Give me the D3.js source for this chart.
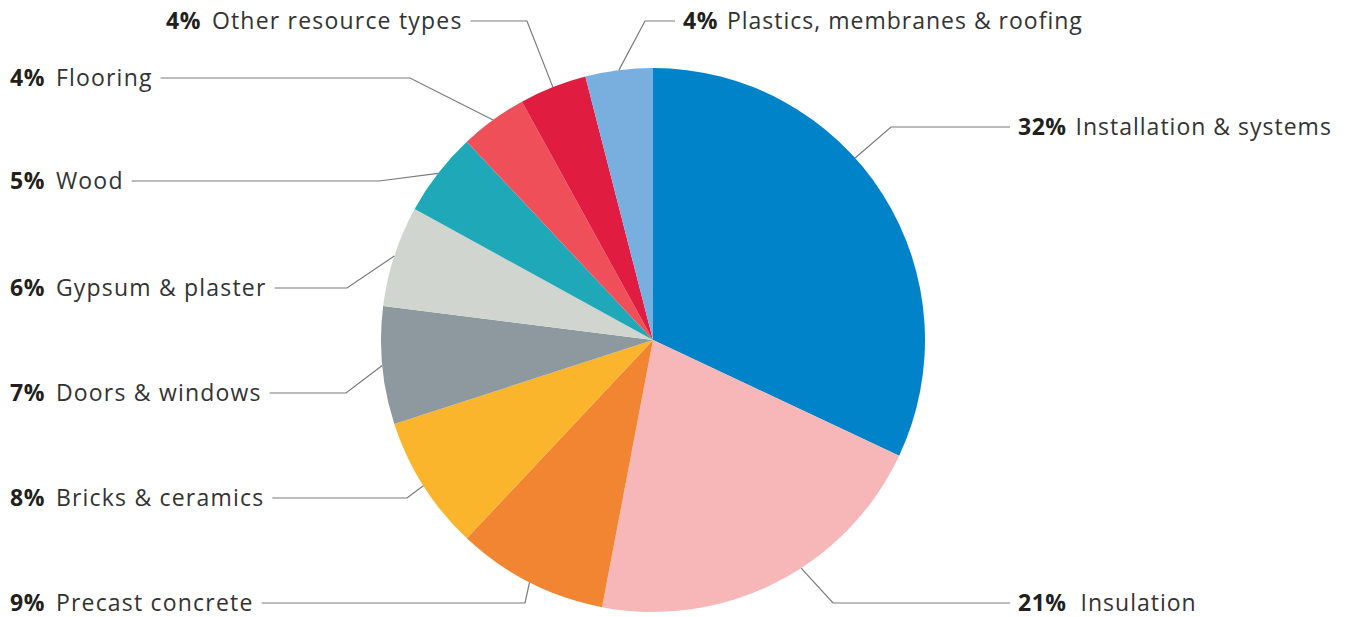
<!DOCTYPE html>
<html>
<head>
<meta charset="utf-8">
<script src="https://cdn.jsdelivr.net/npm/d3@7"></script>
<style>
  html, body { margin: 0; padding: 0; background: #ffffff; }
  svg { display: block; }
</style>
</head>
<body>
<svg id="chart" width="1347" height="617"></svg>
<script>
// ---- data ----
const categories = [
  "Installation & systems",
  "Insulation",
  "Precast concrete",
  "Bricks & ceramics",
  "Doors & windows",
  "Gypsum & plaster",
  "Wood",
  "Flooring",
  "Other resource types",
  "Plastics, membranes & roofing"
];
const values = [32, 21, 9, 8, 7, 6, 5, 4, 4, 4];
const colors = [
  "#0083c9", "#f7b6b7", "#f28532", "#fbb52c", "#8e989f",
  "#d0d5cf", "#1fa9b8", "#ef4f59", "#e01c40", "#79afde"
];

// ---- layout (label placement) ----
const labelX    = [1018, 1018, 10, 10, 10, 10, 10, 10, 166, 683];
const labelY    = [127, 603, 603, 498, 393, 288, 181, 78, 21, 21];
const elbowX    = [891, 833, 525, 407, 346, 347, 379, 410, 527, 645];
const labelSide = ["right", "right", "left", "left", "left", "left", "left", "left", "left", "right"];
const anchorDeg = [48, 147, null, null, null, null, null, null, null, null];

const cx = 653, cy = 340, R = 272;

const svg = d3.select("#chart");
const data = categories.map((c, i) => ({ name: c, value: values[i], i }));

const pie = d3.pie().sort(null).value(d => d.value);
const arc = d3.arc().innerRadius(0).outerRadius(R);
const arcs = pie(data);

const g = svg.append("g").attr("transform", `translate(${cx},${cy})`);
g.selectAll("path.slice")
  .data(arcs)
  .join("path")
  .attr("class", "slice")
  .attr("d", arc)
  .attr("fill", d => colors[d.data.i]);

// labels
const lbl = svg.append("g");
arcs.forEach(a => {
  const i = a.data.i;
  const right = labelSide[i] === "right";
  const t = lbl.append("text")
    .attr("x", labelX[i])
    .attr("y", labelY[i])
    .attr("dy", "0.36em")
    .style("font-family", "'Open Sans', 'Noto Sans', sans-serif")
    .style("font-size", "23px");
  t.append("tspan")
    .text(a.data.value + "%")
    .style("font-weight", 700)
    .attr("fill", "#231f20")
    .style("letter-spacing", "0.5px");
  t.append("tspan")
    .attr("dx", i === 1 ? 14 : (right ? 9 : 11))
    .text(a.data.name)
    .attr("fill", "#333333")
    .style("font-weight", 400)
    .style("letter-spacing", right ? "1px" : "1.2px");

  const bb = t.node().getBBox();
  const ang = anchorDeg[i] != null ? anchorDeg[i] * Math.PI / 180 : (a.startAngle + a.endAngle) / 2;
  const sx = cx + R * Math.sin(ang);
  const sy = cy - R * Math.cos(ang);
  const ly = labelY[i];
  let hx;
  if (labelX[i] > elbowX[i]) {
    hx = labelX[i] - 8;
  } else {
    hx = bb.x + bb.width + 8;
  }
  lbl.append("path")
    .attr("d", `M${sx},${sy}L${elbowX[i]},${ly}L${hx},${ly}`)
    .attr("fill", "none")
    .attr("stroke", "#7a7a7a")
    .attr("stroke-width", 1.2);
});
</script>
</body>
</html>
